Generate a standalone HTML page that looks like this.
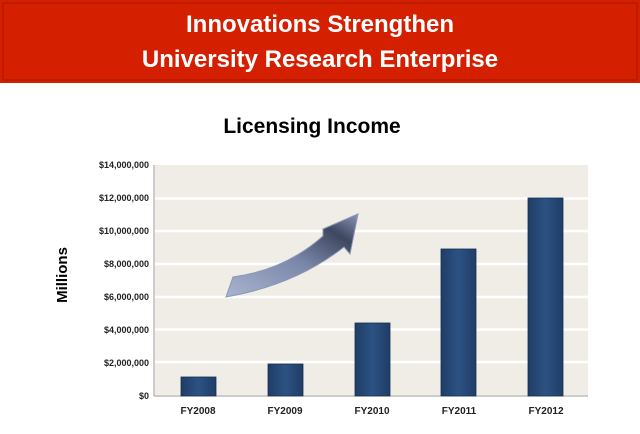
<!DOCTYPE html>
<html><head><style>
body{margin:0;width:640px;height:429px;background:#fff;overflow:hidden;font-family:"Liberation Sans",sans-serif;}
</style></head><body>
<svg width="640" height="429" xmlns="http://www.w3.org/2000/svg" font-family="Liberation Sans, sans-serif">
<defs>
<linearGradient id="ar" x1="0" y1="1" x2="1" y2="0"><stop offset="0" stop-color="#a9b4cf"/><stop offset="0.5" stop-color="#7a86a8"/><stop offset="0.8" stop-color="#3e475f"/><stop offset="1" stop-color="#8a96b8"/></linearGradient>
<linearGradient id="bar" x1="0" y1="0" x2="1" y2="0"><stop offset="0" stop-color="#1f3d66"/><stop offset="0.5" stop-color="#2c5283"/><stop offset="1" stop-color="#1f3d66"/></linearGradient>
</defs>
<rect x="0" y="0" width="640" height="83" fill="#d41f00"/>
<rect x="3" y="3" width="634" height="77" fill="none" stroke="#b81a00" stroke-width="1.5"/>
<text x="320" y="32" text-anchor="middle" fill="#fff" font-size="24" font-weight="bold">Innovations Strengthen</text>
<text x="320" y="67" text-anchor="middle" fill="#fff" font-size="24" font-weight="bold">University Research Enterprise</text>
<text x="312" y="133" text-anchor="middle" fill="#000" font-size="21" font-weight="bold">Licensing Income</text>
<text transform="translate(67,275) rotate(-90)" text-anchor="middle" font-size="15" font-weight="bold">Millions</text>
<rect x="155" y="165" width="433" height="230" fill="#efede6"/>
<g stroke="#fff" stroke-width="2.5">
<line x1="155" y1="362" x2="588" y2="362"/><line x1="155" y1="329.5" x2="588" y2="329.5"/>
<line x1="155" y1="297" x2="588" y2="297"/><line x1="155" y1="264" x2="588" y2="264"/>
<line x1="155" y1="231" x2="588" y2="231"/><line x1="155" y1="198.5" x2="588" y2="198.5"/>
</g>
<line x1="154" y1="165" x2="154" y2="396" stroke="#999"/>
<line x1="154" y1="396" x2="588" y2="396" stroke="#999"/>
<g font-size="9" font-weight="bold" text-anchor="end" fill="#222">
<text x="149" y="399">$0</text><text x="149" y="366">$2,000,000</text><text x="149" y="333">$4,000,000</text>
<text x="149" y="300">$6,000,000</text><text x="149" y="267">$8,000,000</text><text x="149" y="234">$10,000,000</text>
<text x="149" y="201">$12,000,000</text><text x="149" y="168">$14,000,000</text>
</g>
<g fill="url(#bar)" stroke="#163052" stroke-width="0.8">
<rect x="181" y="377" width="35" height="19"/>
<rect x="268" y="364" width="35" height="32"/>
<rect x="355" y="323" width="35" height="73"/>
<rect x="441" y="249" width="35" height="147"/>
<rect x="528" y="198" width="35" height="198"/>
</g>
<g font-size="10" font-weight="bold" text-anchor="middle" fill="#222">
<text x="198" y="414">FY2008</text><text x="285" y="414">FY2009</text><text x="372" y="414">FY2010</text>
<text x="459" y="414">FY2011</text><text x="546" y="414">FY2012</text>
</g>
<path d="M226 297 L233 277 Q285 270 323 236 L323 229 L358 214 L350 254 L344 247 Q295 285 226 297 Z" fill="url(#ar)" stroke="#8a96b8" stroke-width="1"/>
</svg>
</body></html>
